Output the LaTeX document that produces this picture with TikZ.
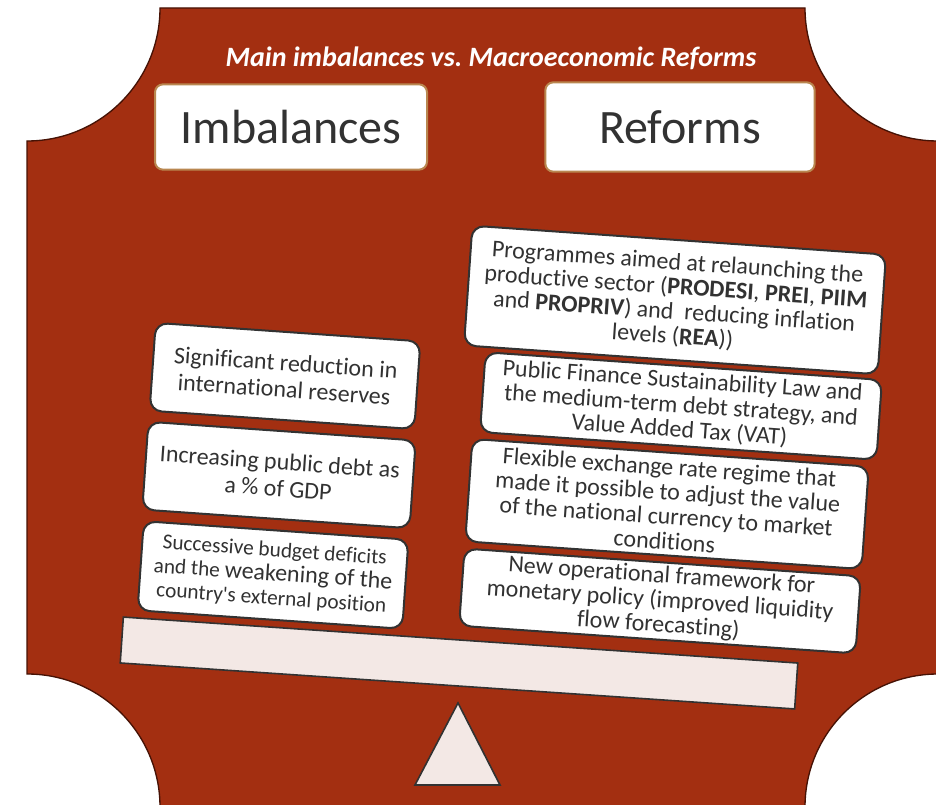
\documentclass[tikz,border=0pt]{standalone}
\usepackage{fontspec}
\setmainfont{Carlito}[Ligatures={TeX,NoCommon}]

\begin{document}
\begin{tikzpicture}[x=0.75pt,y=-0.75pt]

\definecolor{rustbg}{RGB}{163, 47, 17}
\definecolor{rustedge}{RGB}{70, 18, 5}
\definecolor{tanedge}{RGB}{185, 135, 80}
\definecolor{plankfill}{RGB}{243, 232, 229}
\definecolor{inkgray}{RGB}{50, 50, 50}

\useasboundingbox (0,0) rectangle (936,805);

\tikzset{
    header box/.style={
        draw=tanedge, line width=1.5pt, fill=white,
        rounded corners=6pt, text=inkgray,
        font=\fontsize{36}{42}\selectfont
    },
    card/.style={
        draw=inkgray, line width=1.5pt, fill=white,
        rounded corners=9pt, rotate=-4, inner sep=1pt,
        align=center, text=inkgray,
        font=\fontsize{18}{18.5}\selectfont
    },
    plank/.style={
        draw=inkgray, line width=1.2pt, fill=plankfill
    }
}

% Background plate with cut corners
\draw[rustedge, fill=rustbg, line width=1pt]
    (160,8) -- (805,8) arc (180:90:133) -- (938,674) arc (-90:-180:133)
    -- (160,807) arc (0:-90:133) -- (27,141) arc (90:0:133) -- cycle;

% Title
\node[text=white, font=\bfseries\itshape\fontsize{21}{25}\selectfont] (title) at (491,58) {Main imbalances vs.\ Macroeconomic Reforms};

% Column headers
\node[header box, minimum width=204pt, minimum height=64pt] (imb) at (291,127) {Imbalances};
\node[header box, minimum width=202pt, minimum height=67pt] (ref) at (680,127) {Reforms};

% Scale: beam and fulcrum
\node[plank, rotate=-3.9, minimum width=507pt, minimum height=34.5pt] (beam) at (459,663) {};
\draw[plank] (458,703) -- (500,785) -- (415,785) -- cycle;

% IMBALANCES (left pan)
\node[card, font=\fontsize{16}{18}\selectfont, minimum width=199pt, minimum height=67pt] (deficits) at (273,575)
    {Successive budget deficits\\and the {\fontsize{18}{18}\selectfont weakening of the}\\country\textquotesingle s external position};
\node[card, font=\fontsize{18}{20}\selectfont, minimum width=201pt, minimum height=66pt] (debt) at (279,475)
    {Increasing public debt as\\a \% of GDP};
\node[card, font=\fontsize{18}{20}\selectfont, minimum width=199pt, minimum height=66pt] (reserves) at (285,376)
    {Significant reduction in\\international reserves};

% REFORMS (right pan)
\node[card, minimum width=298pt, minimum height=58pt] (monetary) at (660,601)
    {New operational framework for\\monetary policy (improved liquidity\\flow forecasting)};
\node[card, minimum width=298pt, minimum height=77pt] (exchange) at (667,504)
    {Flexible exchange rate regime that\\made it possible to adjust the value\\of the national currency to market\\conditions};
\node[card, minimum width=298pt, minimum height=60pt] (finance) at (681,406)
    {Public Finance Sustainability Law and\\the medium-term debt strategy, and\\Value Added Tax (VAT)};
\node[card, minimum width=311pt, minimum height=90pt] (programmes) at (675,300)
    {Programmes aimed at relaunching the\\productive sector (\textbf{PRODESI}, \textbf{PREI}, \textbf{PIIM}\\and \textbf{PROPRIV}) and\ \ reducing inflation\\levels (\textbf{REA}))};

\end{tikzpicture}
\end{document}
